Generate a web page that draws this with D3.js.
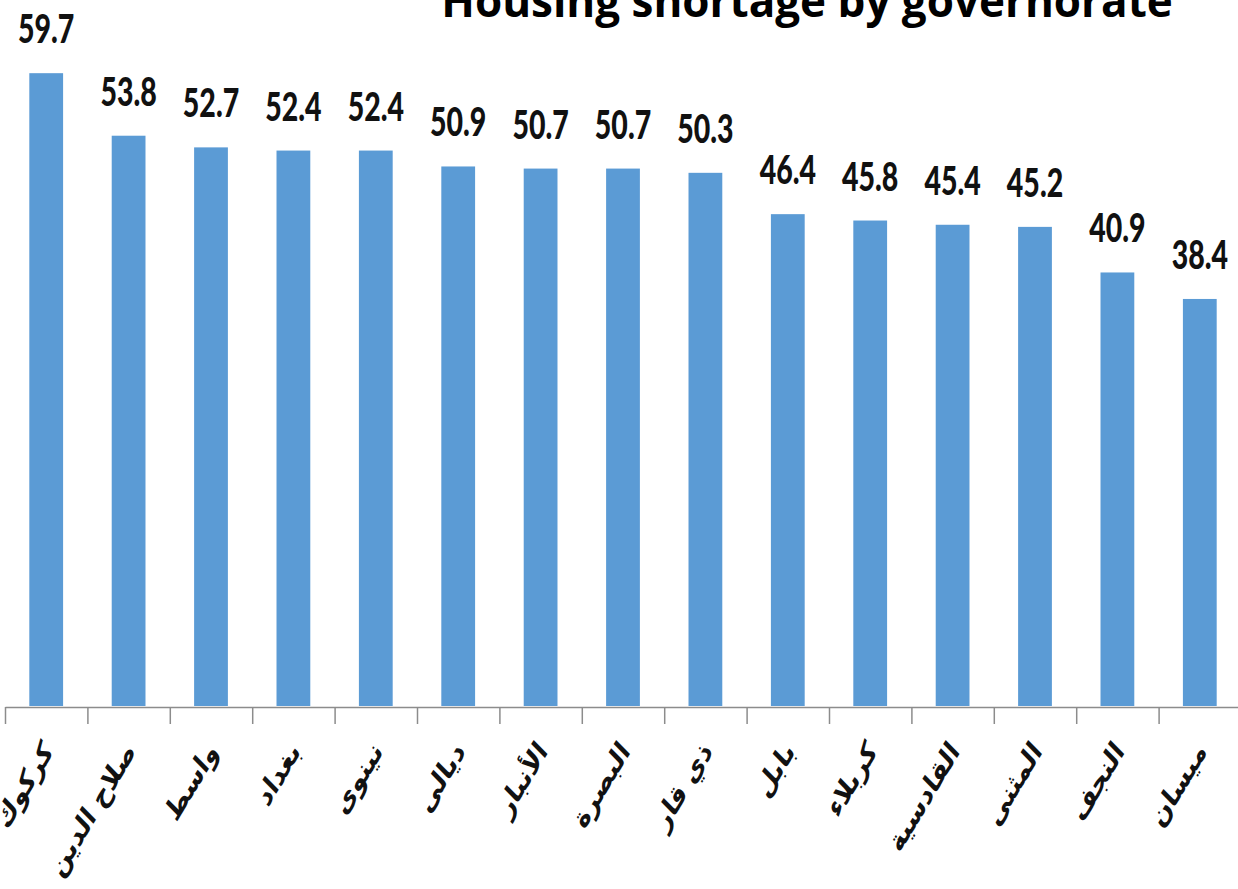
<!DOCTYPE html>
<html>
<head>
<meta charset="utf-8">
<script src="https://cdn.jsdelivr.net/npm/d3@7"></script>
<style>
  body { margin: 0; background: #fff; }
</style>
</head>
<body>
<div id="output"></div>
<script>
var width = 1238;
var height = 889;

// governorates, left to right
var governorates = ['كركوك', 'صلاح الدين', 'واسط', 'بغداد', 'نينوى', 'ديالى', 'الأنبار',
  'البصرة', 'ذي قار', 'بابل', 'كربلاء', 'القادسية', 'المثنى', 'النجف', 'ميسان'];
var shortage = [59.7, 53.8, 52.7, 52.4, 52.4, 50.9, 50.7, 50.7, 50.3, 46.4, 45.8, 45.4, 45.2, 40.9, 38.4];
var title = 'Housing shortage by governorate';

var svg = d3.select('#output')
  .append('svg')
  .attr('width', width)
  .attr('height', height);

var left = 5, right = 1241, baseline = 706;

var xScale = d3.scaleBand()
  .domain(governorates)
  .range([left, right])
  .paddingInner(0.59)
  .paddingOuter(0.295);

var yScale = d3.scaleLinear()
  .domain([0, 60])
  .range([baseline, 70]);

// tick marks sit between the categories
var tickScale = d3.scaleLinear().domain([0, governorates.length]).range([left, right]);
var xAxis = d3.axisBottom(tickScale)
  .tickValues(d3.range(governorates.length + 1))
  .tickFormat('')
  .tickSizeInner(17)
  .tickSizeOuter(0);

// bars
svg.selectAll('rect')
  .data(shortage)
  .enter()
  .append('rect')
  .attr('x', (_, i) => xScale(governorates[i]))
  .attr('y', (d) => yScale(d))
  .attr('width', xScale.bandwidth())
  .attr('height', (d) => baseline - yScale(d))
  .attr('fill', '#5b9bd5');

var ax = svg.append('g')
  .attr('transform', `translate(0, ${baseline + 1})`)
  .call(xAxis);
ax.selectAll('path, line').attr('stroke', '#8c8c8c').attr('stroke-width', 1.5);

// value labels
svg.selectAll('text.value')
  .data(shortage)
  .enter()
  .append('text')
  .attr('class', 'value')
  .attr('transform', (d, i) => `translate(${xScale(governorates[i]) + xScale.bandwidth() / 2}, ${yScale(d) - 30}) scale(0.95, 1.35)`)
  .attr('text-anchor', 'middle')
  .style('font-family', 'Lato, Carlito, sans-serif')
  .style('font-weight', '900')
  .style('font-size', '30px')
  .attr('fill', '#111')
  .text((d) => d.toFixed(1));

// category labels, rotated
svg.selectAll('text.cat')
  .data(governorates)
  .enter()
  .append('text')
  .attr('class', 'cat')
  .attr('transform', (d) => `translate(${xScale(d) + xScale.bandwidth() / 2 + 8}, 752) scale(1, 1.3) rotate(-52)`)
  .attr('text-anchor', 'end')
  .style('font-family', '"DejaVu Sans", sans-serif')
  .style('font-weight', 'bold')
  .style('font-size', '23px')
  .attr('fill', '#111')
  .text((d) => d);

// title (cut at the top edge)
svg.append('text')
  .attr('x', 807)
  .attr('y', 17)
  .attr('text-anchor', 'middle')
  .style('font-family', '"Open Sans", sans-serif')
  .style('font-weight', 'bold')
  .style('font-size', '44px')
  .attr('fill', '#000')
  .text(title);
</script>
</body>
</html>
